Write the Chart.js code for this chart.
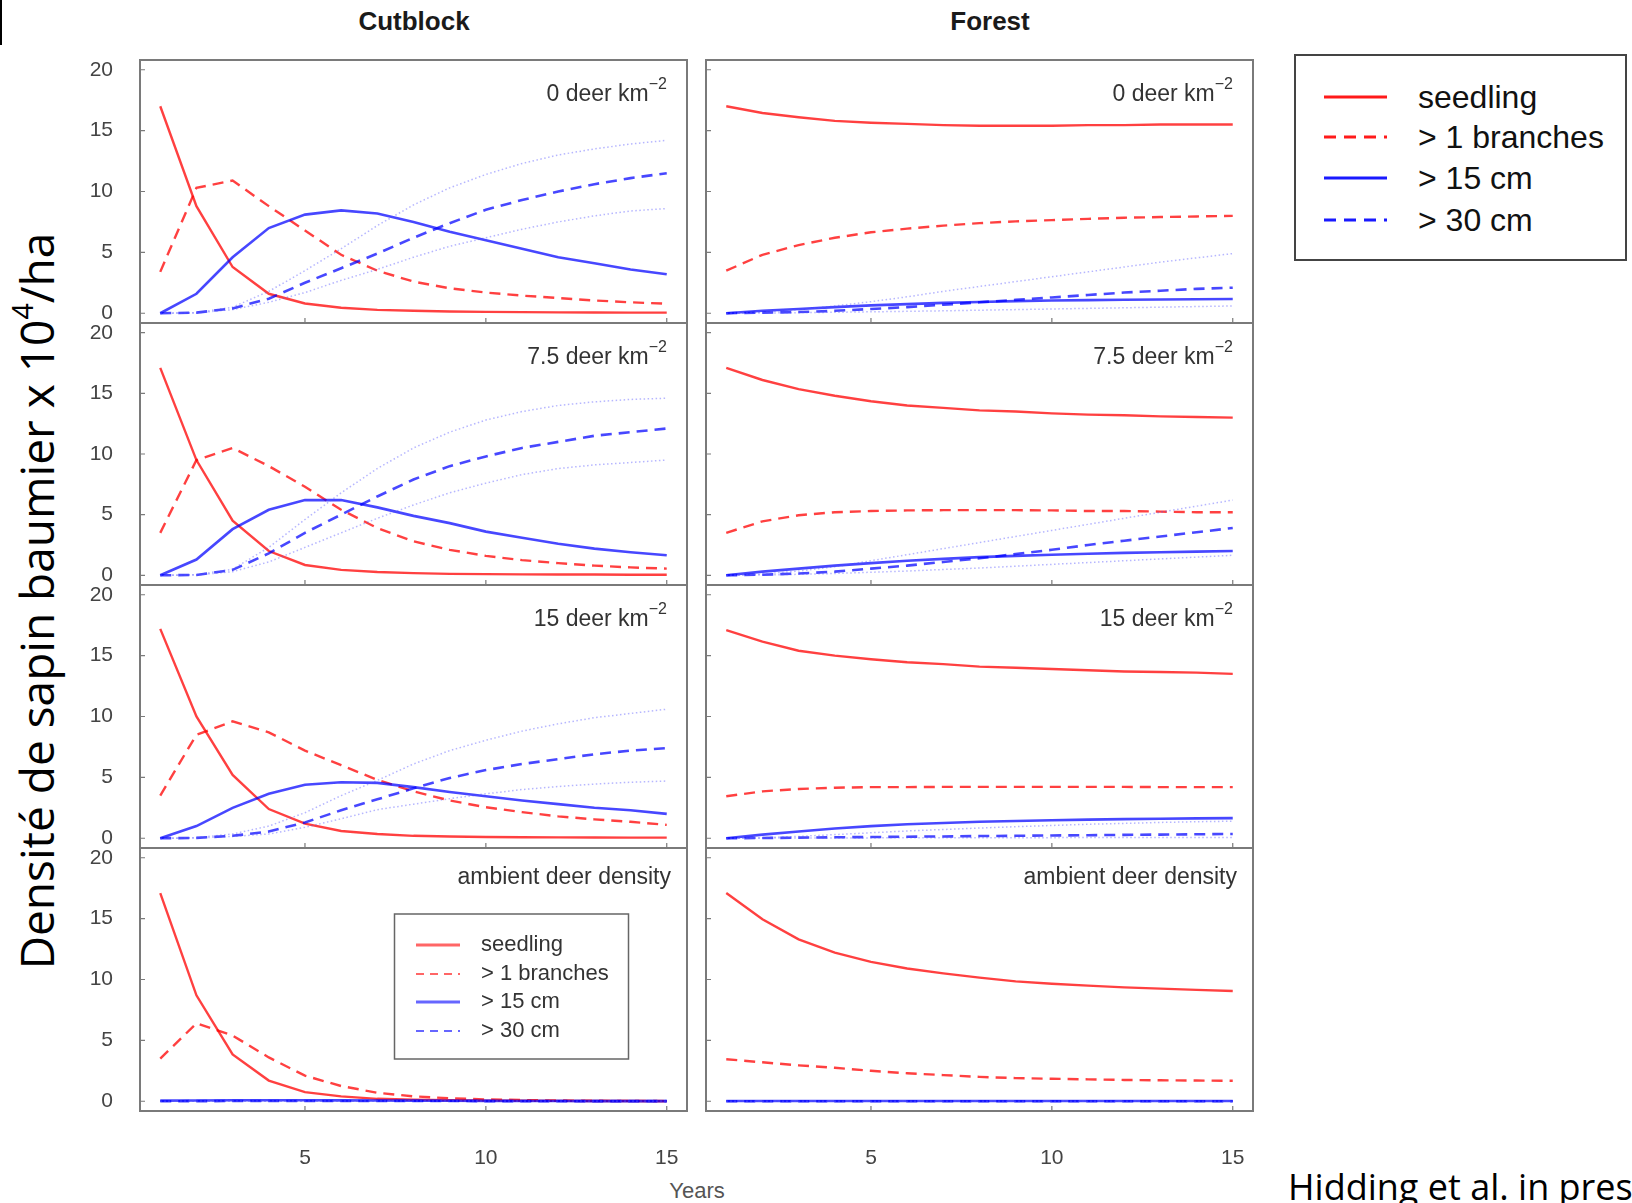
<!DOCTYPE html>
<html>
<head>
<meta charset="utf-8">
<script src="https://cdn.jsdelivr.net/npm/chart.js@4.4.0/dist/chart.umd.min.js"></script>
<style>
  html, body { margin: 0; padding: 0; background: #fff; }
  body { width: 1632px; height: 1203px; position: relative; overflow: hidden; font-family: "Liberation Sans", Arial, sans-serif; }
  canvas.panel { position: absolute; }
  .title { position: absolute; font-weight: bold; font-size: 26px; color: #1a1a1a; transform: translate(-50%, -50%); white-space: nowrap; }
  #years { position: absolute; left: 697px; top: 1191px; font-size: 22px; color: #555; transform: translate(-50%, -50%); }
  #ylabel { position: absolute; left: 36px; top: 601px; font-family: "Open Sans", sans-serif; font-size: 46px; color: #000;
            white-space: nowrap; transform: translate(-50%, -50%) rotate(-90deg); }
  #ylabel span { font-size: 0.62em; position: relative; top: -0.75em; }
  #cite { position: absolute; left: 1288px; top: 1186px; font-family: "Open Sans", sans-serif; font-size: 36px; color: #000;
          white-space: nowrap; transform: translateY(-50%); }
  #bar { position: absolute; left: 0; top: 0; width: 2px; height: 45px; background: #000; }
  #legend { position: absolute; left: 1294px; top: 54px; }
</style>
</head>
<body>
<div id="bar"></div>
<div class="title" style="left:414px; top:21px;">Cutblock</div>
<div class="title" style="left:990px; top:21px;">Forest</div>
<div id="ylabel">Densité de sapin baumier x 10<span>4</span>/ha</div>
<div id="years">Years</div>
<div id="cite">Hidding et al. in press</div>
<svg id="legend" width="333" height="207"></svg>

<script>
// ---- data ----
const years = [1, 2, 3, 4, 5, 6, 7, 8, 9, 10, 11, 12, 13, 14, 15];
const xTicks = [5, 10, 15];
const yTicks = [0, 5, 10, 15, 20];
const seriesNames = ["seedling", "> 1 branches", "> 15 cm", "> 30 cm"];

// Cutblock, 0 deer
const cut0Seedling = [17.0, 8.8, 3.8, 1.6, 0.8, 0.45, 0.28, 0.2, 0.15, 0.11, 0.09, 0.07, 0.06, 0.05, 0.05];
const cut0Branches = [3.4, 10.3, 10.9, 8.8, 6.8, 4.8, 3.5, 2.6, 2.05, 1.7, 1.45, 1.25, 1.05, 0.9, 0.78];
const cut0Cm15 = [0, 1.6, 4.6, 7.0, 8.1, 8.45, 8.2, 7.5, 6.7, 6.0, 5.3, 4.6, 4.1, 3.6, 3.2];
const cut0Cm30 = [0, 0.05, 0.4, 1.2, 2.5, 3.7, 4.9, 6.2, 7.4, 8.5, 9.3, 10.0, 10.6, 11.1, 11.5];
const cut0Cm30Hi = [0, 0.05, 0.5, 1.8, 3.5, 5.3, 7.2, 8.9, 10.3, 11.4, 12.3, 13.0, 13.5, 13.9, 14.2];
const cut0Cm30Lo = [0, 0.03, 0.3, 0.9, 1.7, 2.7, 3.6, 4.6, 5.5, 6.2, 6.9, 7.5, 8.0, 8.4, 8.6];

// Cutblock, 7.5 deer
const cut75Seedling = [17.1, 9.5, 4.5, 2.0, 0.85, 0.45, 0.27, 0.18, 0.12, 0.1, 0.08, 0.07, 0.06, 0.05, 0.05];
const cut75Branches = [3.5, 9.5, 10.5, 9.0, 7.3, 5.4, 3.9, 2.8, 2.1, 1.6, 1.25, 1.0, 0.8, 0.65, 0.55];
const cut75Cm15 = [0, 1.3, 3.8, 5.4, 6.2, 6.2, 5.6, 4.9, 4.3, 3.6, 3.1, 2.6, 2.2, 1.9, 1.65];
const cut75Cm30 = [0, 0.03, 0.45, 1.8, 3.5, 5.0, 6.5, 7.9, 9.0, 9.8, 10.5, 11.0, 11.5, 11.8, 12.1];
const cut75Cm30Hi = [0, 0.05, 0.5, 2.3, 4.6, 6.8, 8.8, 10.5, 11.8, 12.8, 13.5, 14.0, 14.3, 14.5, 14.6];
const cut75Cm30Lo = [0, 0.02, 0.3, 1.1, 2.3, 3.5, 4.7, 5.8, 6.8, 7.6, 8.3, 8.8, 9.1, 9.3, 9.5];

// Cutblock, 15 deer
const cut15Seedling = [17.2, 10.0, 5.2, 2.4, 1.2, 0.6, 0.35, 0.2, 0.15, 0.1, 0.08, 0.07, 0.06, 0.05, 0.05];
const cut15Branches = [3.5, 8.5, 9.6, 8.7, 7.2, 6.0, 4.8, 3.85, 3.1, 2.55, 2.15, 1.8, 1.55, 1.35, 1.1];
const cut15Cm15 = [0, 1.0, 2.5, 3.65, 4.4, 4.6, 4.55, 4.2, 3.8, 3.45, 3.1, 2.8, 2.5, 2.3, 2.0];
const cut15Cm30 = [0, 0.03, 0.2, 0.55, 1.3, 2.3, 3.2, 4.1, 4.95, 5.6, 6.1, 6.5, 6.9, 7.2, 7.4];
const cut15Cm30Hi = [0, 0.05, 0.35, 1.0, 2.1, 3.5, 4.75, 6.1, 7.2, 8.05, 8.8, 9.4, 9.9, 10.25, 10.6];
const cut15Cm30Lo = [0, 0.02, 0.15, 0.35, 0.9, 1.6, 2.35, 2.8, 3.25, 3.65, 4.0, 4.25, 4.45, 4.6, 4.7];

// Cutblock, ambient deer density
const cutAmbSeedling = [17.1, 8.7, 3.85, 1.7, 0.75, 0.4, 0.2, 0.12, 0.08, 0.05, 0.04, 0.03, 0.02, 0.02, 0.01];
const cutAmbBranches = [3.5, 6.4, 5.4, 3.6, 2.1, 1.25, 0.7, 0.4, 0.25, 0.15, 0.1, 0.06, 0.04, 0.03, 0.02];
const cutAmbCm15 = [0.05, 0.06, 0.08, 0.08, 0.08, 0.07, 0.06, 0.05, 0.04, 0.03, 0.02, 0.02, 0.01, 0.01, 0.01];
const cutAmbCm30 = [0, 0.01, 0.02, 0.02, 0.02, 0.02, 0.02, 0.02, 0.02, 0.01, 0.01, 0.01, 0.01, 0.01, 0.01];
const cutAmbCm30Hi = [0, 0.02, 0.04, 0.05, 0.05, 0.05, 0.05, 0.04, 0.04, 0.03, 0.03, 0.02, 0.02, 0.02, 0.02];
const cutAmbCm30Lo = [0, 0, 0, 0, 0, 0, 0, 0, 0, 0, 0, 0, 0, 0, 0];

// Forest, 0 deer
const for0Seedling = [17.0, 16.45, 16.1, 15.8, 15.65, 15.55, 15.45, 15.4, 15.4, 15.4, 15.45, 15.45, 15.5, 15.5, 15.5];
const for0Branches = [3.5, 4.8, 5.6, 6.2, 6.65, 6.95, 7.2, 7.4, 7.55, 7.65, 7.75, 7.85, 7.9, 7.95, 8.0];
const for0Cm15 = [0, 0.2, 0.35, 0.5, 0.65, 0.75, 0.85, 0.93, 1.0, 1.05, 1.08, 1.11, 1.13, 1.15, 1.17];
const for0Cm30 = [0, 0.05, 0.1, 0.2, 0.35, 0.5, 0.7, 0.9, 1.1, 1.3, 1.5, 1.7, 1.85, 2.0, 2.1];
const for0Cm30Hi = [0, 0.1, 0.3, 0.6, 0.95, 1.35, 1.8, 2.2, 2.6, 3.0, 3.4, 3.8, 4.2, 4.55, 4.9];
const for0Cm30Lo = [0, 0.02, 0.05, 0.08, 0.12, 0.16, 0.2, 0.25, 0.3, 0.35, 0.4, 0.45, 0.5, 0.55, 0.6];

// Forest, 7.5 deer
const for75Seedling = [17.1, 16.1, 15.35, 14.8, 14.35, 14.0, 13.8, 13.6, 13.5, 13.35, 13.25, 13.2, 13.1, 13.05, 13.0];
const for75Branches = [3.5, 4.45, 4.95, 5.2, 5.3, 5.35, 5.37, 5.37, 5.37, 5.35, 5.3, 5.3, 5.25, 5.2, 5.2];
const for75Cm15 = [0, 0.3, 0.55, 0.8, 1.0, 1.2, 1.35, 1.5, 1.6, 1.7, 1.78, 1.85, 1.9, 1.95, 2.0];
const for75Cm30 = [0, 0.05, 0.15, 0.3, 0.55, 0.8, 1.1, 1.4, 1.75, 2.1, 2.5, 2.85, 3.2, 3.55, 3.9];
const for75Cm30Hi = [0, 0.1, 0.35, 0.7, 1.2, 1.7, 2.2, 2.7, 3.2, 3.7, 4.2, 4.7, 5.2, 5.7, 6.2];
const for75Cm30Lo = [0, 0.03, 0.08, 0.15, 0.25, 0.35, 0.48, 0.6, 0.75, 0.9, 1.05, 1.2, 1.35, 1.5, 1.65];

// Forest, 15 deer
const for15Seedling = [17.1, 16.15, 15.4, 15.0, 14.7, 14.45, 14.3, 14.1, 14.0, 13.9, 13.8, 13.7, 13.65, 13.6, 13.5];
const for15Branches = [3.45, 3.85, 4.05, 4.15, 4.2, 4.2, 4.22, 4.22, 4.22, 4.22, 4.22, 4.22, 4.2, 4.2, 4.2];
const for15Cm15 = [0, 0.3, 0.55, 0.8, 1.0, 1.15, 1.25, 1.35, 1.42, 1.48, 1.53, 1.57, 1.6, 1.63, 1.65];
const for15Cm30 = [0, 0.02, 0.05, 0.08, 0.1, 0.13, 0.15, 0.18, 0.2, 0.23, 0.25, 0.28, 0.3, 0.33, 0.35];
const for15Cm30Hi = [0, 0.05, 0.15, 0.3, 0.45, 0.6, 0.72, 0.84, 0.95, 1.05, 1.15, 1.22, 1.3, 1.36, 1.4];
const for15Cm30Lo = [0, 0.01, 0.02, 0.03, 0.03, 0.04, 0.04, 0.05, 0.05, 0.05, 0.06, 0.06, 0.06, 0.07, 0.07];

// Forest, ambient deer density
const forAmbSeedling = [17.1, 14.95, 13.3, 12.2, 11.45, 10.9, 10.5, 10.15, 9.85, 9.65, 9.5, 9.35, 9.25, 9.15, 9.05];
const forAmbBranches = [3.45, 3.2, 2.95, 2.75, 2.5, 2.3, 2.15, 2.0, 1.9, 1.85, 1.8, 1.75, 1.72, 1.7, 1.68];
const forAmbCm15 = [0.02, 0.02, 0.02, 0.02, 0.02, 0.02, 0.02, 0.02, 0.02, 0.02, 0.02, 0.02, 0.02, 0.02, 0.02];
const forAmbCm30 = [0, 0, 0, 0, 0, 0, 0, 0, 0, 0, 0, 0, 0, 0, 0];
const forAmbCm30Hi = [0, 0, 0, 0, 0, 0, 0, 0, 0, 0, 0, 0, 0, 0, 0];
const forAmbCm30Lo = [0, 0, 0, 0, 0, 0, 0, 0, 0, 0, 0, 0, 0, 0, 0];

// ---- styles / layout ----
const RED = "rgba(255,0,0,0.75)";
const BLUE = "rgba(0,0,255,0.72)";
const DOT = "rgba(80,80,255,0.42)";
const styles = [
  { color: RED, width: 2.4, dash: [] },
  { color: RED, width: 2.4, dash: [11, 7] },
  { color: BLUE, width: 2.6, dash: [] },
  { color: BLUE, width: 2.6, dash: [11, 7] },
  { color: DOT, width: 1.5, dash: [1.5, 2.5] },
  { color: DOT, width: 1.5, dash: [1.5, 2.5] },
];

const colLeft = [140, 706];
const colRight = [687, 1253];
const rowTop = [60, 323, 585, 848];
const rowBottom = [323, 585, 848, 1111];

const panels = [
  { col: 0, row: 0, note: "0 deer km", sup: "\u22122", series: [cut0Seedling, cut0Branches, cut0Cm15, cut0Cm30, cut0Cm30Hi, cut0Cm30Lo] },
  { col: 0, row: 1, note: "7.5 deer km", sup: "\u22122", series: [cut75Seedling, cut75Branches, cut75Cm15, cut75Cm30, cut75Cm30Hi, cut75Cm30Lo] },
  { col: 0, row: 2, note: "15 deer km", sup: "\u22122", series: [cut15Seedling, cut15Branches, cut15Cm15, cut15Cm30, cut15Cm30Hi, cut15Cm30Lo] },
  { col: 0, row: 3, note: "ambient deer density", sup: "", legend: true, series: [cutAmbSeedling, cutAmbBranches, cutAmbCm15, cutAmbCm30, cutAmbCm30Hi, cutAmbCm30Lo] },
  { col: 1, row: 0, note: "0 deer km", sup: "\u22122", series: [for0Seedling, for0Branches, for0Cm15, for0Cm30, for0Cm30Hi, for0Cm30Lo] },
  { col: 1, row: 1, note: "7.5 deer km", sup: "\u22122", series: [for75Seedling, for75Branches, for75Cm15, for75Cm30, for75Cm30Hi, for75Cm30Lo] },
  { col: 1, row: 2, note: "15 deer km", sup: "\u22122", series: [for15Seedling, for15Branches, for15Cm15, for15Cm30, for15Cm30Hi, for15Cm30Lo] },
  { col: 1, row: 3, note: "ambient deer density", sup: "", series: [forAmbSeedling, forAmbBranches, forAmbCm15, forAmbCm30, forAmbCm30Hi, forAmbCm30Lo] },
];

const FONT = "'Liberation Sans', Arial, sans-serif";
Chart.defaults.font.family = FONT;

// box, inward ticks, panel note and the small legend
const framePlugin = {
  id: "frame",
  afterDatasetsDraw(chart, args, opts) {
    const { ctx, chartArea: a, scales } = chart;
    ctx.save();
    ctx.strokeStyle = "#7a7a7a";
    ctx.lineWidth = 2;
    ctx.strokeRect(a.left, a.top, a.right - a.left, a.bottom - a.top);
    ctx.lineWidth = 1.2;
    ctx.beginPath();
    xTicks.forEach(v => {
      const px = scales.x.getPixelForValue(v);
      ctx.moveTo(px, a.bottom); ctx.lineTo(px, a.bottom - 5);
    });
    yTicks.forEach(v => {
      const py = scales.y.getPixelForValue(v);
      ctx.moveTo(a.left, py); ctx.lineTo(a.left + 5, py);
    });
    ctx.stroke();

    // note in the top right corner
    ctx.fillStyle = "#333";
    ctx.textBaseline = "alphabetic";
    ctx.textAlign = "left";
    if (opts.sup) {
      ctx.font = "16px " + FONT;
      const supW = ctx.measureText(opts.sup).width;
      ctx.font = "23px " + FONT;
      const mainW = ctx.measureText(opts.note).width;
      const end = a.right - 20;
      ctx.fillText(opts.note, end - supW - mainW, a.top + 41);
      ctx.font = "16px " + FONT;
      ctx.fillText(opts.sup, end - supW, a.top + 29);
    } else {
      ctx.font = "23px " + FONT;
      const w = ctx.measureText(opts.note).width;
      ctx.fillText(opts.note, a.right - 16 - w, a.top + 36);
    }

    if (opts.legend) {
      const bx = a.left + 254.5, by = a.top + 66, bw = 234, bh = 145;
      ctx.strokeStyle = "#666";
      ctx.lineWidth = 1.5;
      ctx.strokeRect(bx, by, bw, bh);
      const rowsY = [31, 60, 88, 117];
      seriesNames.forEach((name, i) => {
        const st = styles[i];
        const y = by + rowsY[i];
        ctx.strokeStyle = i < 2 ? "rgba(255,0,0,0.6)" : "rgba(0,0,255,0.6)";
        ctx.lineWidth = st.dash.length ? 2 : 3;
        ctx.setLineDash(st.dash.length ? [8, 6] : []);
        ctx.beginPath();
        ctx.moveTo(bx + 21.5, y); ctx.lineTo(bx + 65.5, y);
        ctx.stroke();
        ctx.setLineDash([]);
        ctx.fillStyle = "#333";
        ctx.font = "22px " + FONT;
        ctx.textBaseline = "middle";
        ctx.fillText(name, bx + 86.5, y);
      });
    }
    ctx.restore();
  }
};

// invisible tick marks give the label offset without adding layout padding
const hiddenTicks = len => ({ display: true, drawOnChartArea: false, drawTicks: true, tickLength: len, color: "rgba(0,0,0,0)" });

panels.forEach(p => {
  const bottomRow = p.row === 3;
  const leftCol = p.col === 0;
  const yAxisW = 70, padT = 14, padR = 4;
  const padB = bottomRow ? 0 : 14;
  const xAxisH = bottomRow ? 70 : 0;
  const padL = leftCol ? 0 : 4;
  const left = colLeft[p.col] - (leftCol ? yAxisW : padL);
  const top = rowTop[p.row] - padT;
  const width = colRight[p.col] + padR - left;
  const height = rowBottom[p.row] + xAxisH + padB - top;

  const canvas = document.createElement("canvas");
  canvas.className = "panel";
  canvas.width = width;
  canvas.height = height;
  canvas.style.left = left + "px";
  canvas.style.top = top + "px";
  document.body.appendChild(canvas);

  const datasets = p.series.map((vals, i) => ({
    label: seriesNames[i] || "",
    data: vals,
    borderColor: styles[i].color,
    borderWidth: styles[i].width,
    borderDash: styles[i].dash,
    pointRadius: 0,
    tension: 0,
    fill: false,
    order: 6 - i,
  }));

  new Chart(canvas, {
    type: "line",
    data: { labels: years, datasets },
    options: {
      responsive: false,
      animation: false,
      events: [],
      layout: { padding: { left: padL, top: padT, right: padR, bottom: padB } },
      plugins: {
        legend: { display: false },
        tooltip: { enabled: false },
        frame: { note: p.note, sup: p.sup, legend: !!p.legend },
      },
      scales: {
        x: {
          type: "linear", min: 0.44, max: 15.56, display: bottomRow,
          grid: hiddenTicks(35), border: { display: false },
          ticks: { padding: 0, color: "#444", font: { size: 21 }, autoSkip: false, maxRotation: 0 },
          afterBuildTicks: s => { s.ticks = xTicks.map(v => ({ value: v })); },
          afterFit: s => { if (s.options.display) s.height = xAxisH; },
        },
        y: {
          type: "linear", min: -0.8, max: 20.8, display: leftCol,
          grid: hiddenTicks(27), border: { display: false },
          ticks: { padding: 0, color: "#444", font: { size: 21 }, autoSkip: false },
          afterBuildTicks: s => { s.ticks = yTicks.map(v => ({ value: v })); },
          afterFit: s => { if (s.options.display) s.width = yAxisW; },
        },
      },
    },
    plugins: [framePlugin],
  });
});

// big legend on the right
(function () {
  const svg = document.getElementById("legend");
  const ns = "http://www.w3.org/2000/svg";
  const box = document.createElementNS(ns, "rect");
  box.setAttribute("x", 1); box.setAttribute("y", 1);
  box.setAttribute("width", 331); box.setAttribute("height", 205);
  box.setAttribute("fill", "none"); box.setAttribute("stroke", "#444"); box.setAttribute("stroke-width", 2);
  svg.appendChild(box);
  const rowsY = [43, 83, 124, 166];
  const colors = ["#ff1a1a", "#ff1a1a", "#1a1aff", "#1a1aff"];
  seriesNames.forEach((name, i) => {
    const ln = document.createElementNS(ns, "line");
    ln.setAttribute("x1", 30); ln.setAttribute("x2", 93);
    ln.setAttribute("y1", rowsY[i]); ln.setAttribute("y2", rowsY[i]);
    ln.setAttribute("stroke", colors[i]); ln.setAttribute("stroke-width", 3);
    if (styles[i].dash.length) ln.setAttribute("stroke-dasharray", "12 8");
    svg.appendChild(ln);
    const tx = document.createElementNS(ns, "text");
    tx.setAttribute("x", 124); tx.setAttribute("y", rowsY[i]);
    tx.setAttribute("dominant-baseline", "central");
    tx.setAttribute("font-family", "Liberation Sans, Arial, sans-serif");
    tx.setAttribute("font-size", 32); tx.setAttribute("fill", "#111");
    tx.textContent = name;
    svg.appendChild(tx);
  });
})();
</script>
</body>
</html>
